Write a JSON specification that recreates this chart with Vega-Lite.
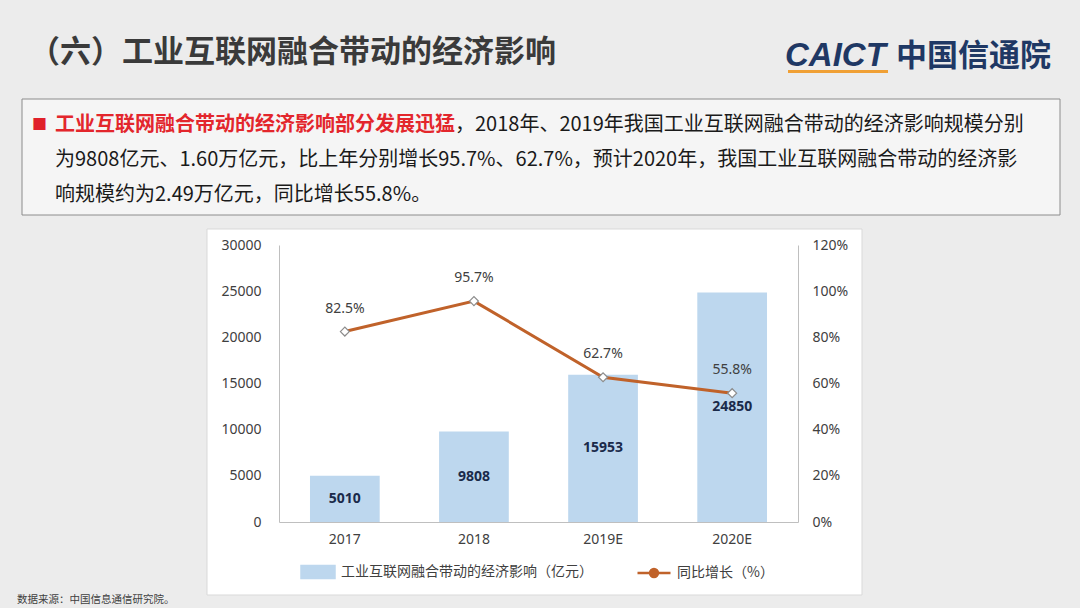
{
  "$schema": "https://vega.github.io/schema/vega-lite/v6.json",
  "width": 519,
  "height": 277,
  "autosize": {"type": "none"},
  "padding": {"left": 279, "top": 245, "right": 282, "bottom": 86},
  "background": "#ececec",
  "config": {"view": {"stroke": null}, "font": "Noto Sans CJK SC"},
  "data": {
    "values": [
      {"year": "2017", "value": 5010, "growth": 0.825, "glabel": "82.5%"},
      {"year": "2018", "value": 9808, "growth": 0.957, "glabel": "95.7%"},
      {"year": "2019E", "value": 15953, "growth": 0.627, "glabel": "62.7%"},
      {"year": "2020E", "value": 24850, "growth": 0.558, "glabel": "55.8%"}
    ]
  },
  "layer": [
    {
      "data": {"values": [{}]},
      "mark": {"type": "rect", "fill": "#f5f5f5", "stroke": "#8c8c8c", "strokeWidth": 1},
      "encoding": {"x": {"value": -257}, "x2": {"value": 781}, "y": {"value": -146}, "y2": {"value": -30}}
    },
    {
      "data": {"values": [{}]},
      "mark": {"type": "rect", "fill": "#ffffff", "stroke": "#d9d9d9", "strokeWidth": 1},
      "encoding": {"x": {"value": -72}, "x2": {"value": 583}, "y": {"value": -16}, "y2": {"value": 350}}
    },
    {
      "mark": {"type": "bar"},
      "encoding": {
        "x": {
          "field": "year", "type": "nominal", "sort": null,
          "scale": {"paddingInner": 0.46, "paddingOuter": 0.24},
          "axis": {"title": null, "zindex": 1, "labelAngle": 0, "labelFont": "Noto Sans", "labelFontSize": 14, "labelColor": "#404040", "labelPadding": 10, "ticks": false, "domainColor": "#bfbfbf", "domainWidth": 1}
        },
        "y": {
          "field": "value", "type": "quantitative",
          "scale": {"domain": [0, 30000], "nice": false},
          "axis": {"title": null, "zindex": 1, "values": [0, 5000, 10000, 15000, 20000, 25000, 30000], "format": "d", "grid": false, "ticks": false, "labelFont": "Noto Sans", "labelFontSize": 14, "labelColor": "#404040", "labelPadding": 18, "domainColor": "#bfbfbf", "domainWidth": 1}
        },
        "color": {
          "datum": "工业互联网融合带动的经济影响（亿元）",
          "type": "nominal",
          "scale": {"domain": ["工业互联网融合带动的经济影响（亿元）", "同比增长（%）"], "range": ["#bdd7ee", "#c0622a"]},
          "legend": {
            "title": null,
            "orient": "none",
            "direction": "horizontal",
            "legendX": 21,
            "legendY": 309,
            "padding": 0,
            "labelFont": "Noto Sans CJK SC",
            "labelFontSize": 14,
            "labelColor": "#404040",
            "labelLimit": 0,
            "symbolSize": 1089,
            "columnPadding": 39,
            "labelOffset": 5,
            "encode": {
              "symbols": {
                "update": {
                  "shape": [
                    {"test": "datum.value === '同比增长（%）'", "value": "M-1,0L1,0M0.24,0A0.24,0.24 0 1,1 -0.24,0A0.24,0.24 0 1,1 0.24,0Z"},
                    {"value": "M-1,-0.36L1,-0.36L1,0.36L-1,0.36Z"}
                  ],
                  "size": {"value": 1089},
                  "fill": [
                    {"test": "datum.value === '同比增长（%）'", "value": "#ffffff"},
                    {"value": "#bdd7ee"}
                  ],
                  "stroke": [
                    {"test": "datum.value === '同比增长（%）'", "value": "#c0622a"},
                    {"value": "#bdd7ee"}
                  ],
                  "strokeWidth": {"value": 2.5},
                  "opacity": {"value": 1}
                }
              }
            }
          }
        }
      }
    },
    {
      "mark": {"type": "text", "font": "Noto Sans", "fontSize": 14, "fontWeight": "bold", "color": "#1a2a4a", "baseline": "middle"},
      "encoding": {
        "x": {"field": "year", "type": "nominal", "sort": null},
        "y": {"field": "value", "type": "quantitative", "scale": {"domain": [0, 60000], "nice": false}, "axis": null},
        "text": {"field": "value", "type": "quantitative", "format": "d"}
      }
    },
    {
      "mark": {"type": "line", "strokeWidth": 3},
      "encoding": {
        "x": {"field": "year", "type": "nominal", "sort": null},
        "y": {
          "field": "growth", "type": "quantitative",
          "scale": {"domain": [0, 1.2], "nice": false},
          "axis": {"orient": "right", "zindex": 1, "title": null, "values": [0, 0.2, 0.4, 0.6, 0.8, 1.0, 1.2], "format": ".0%", "grid": false, "ticks": false, "labelFont": "Noto Sans", "labelFontSize": 14, "labelColor": "#404040", "labelPadding": 14, "domainColor": "#bfbfbf", "domainWidth": 1}
        },
        "color": {"datum": "同比增长（%）", "type": "nominal"}
      }
    },
    {
      "mark": {"type": "point", "shape": "diamond", "filled": true, "fill": "#ffffff", "stroke": "#8c8c8c", "strokeWidth": 1.2, "size": 80, "opacity": 1},
      "encoding": {
        "x": {"field": "year", "type": "nominal", "sort": null},
        "y": {"field": "growth", "type": "quantitative", "scale": {"domain": [0, 1.2], "nice": false}, "axis": null}
      }
    },
    {
      "mark": {"type": "text", "font": "Noto Sans", "fontSize": 14, "color": "#404040", "baseline": "middle", "dy": -23},
      "encoding": {
        "x": {"field": "year", "type": "nominal", "sort": null},
        "y": {"field": "growth", "type": "quantitative", "scale": {"domain": [0, 1.2], "nice": false}, "axis": null},
        "text": {"field": "glabel"}
      }
    },
    {
      "data": {"values": [{"t": "（六）工业互联网融合带动的经济影响"}]},
      "mark": {"type": "text", "font": "Noto Sans CJK SC", "fontSize": 31, "fontWeight": "bold", "color": "#3a3a3a", "align": "left", "baseline": "middle"},
      "encoding": {"text": {"field": "t"}, "x": {"value": -250}, "y": {"value": -192}}
    },
    {
      "data": {"values": [{"t": "■"}]},
      "mark": {"type": "text", "font": "Noto Sans CJK SC", "fontSize": 15, "color": "#e0202a", "align": "left", "baseline": "middle"},
      "encoding": {"text": {"field": "t"}, "x": {"value": -247}, "y": {"value": -120}}
    },
    {
      "data": {"values": [{"t": "工业互联网融合带动的经济影响部分发展迅猛"}]},
      "mark": {"type": "text", "font": "Noto Sans CJK SC", "fontSize": 20, "fontWeight": "bold", "color": "#e3262c", "align": "left", "baseline": "middle"},
      "encoding": {"text": {"field": "t"}, "x": {"value": -224}, "y": {"value": -120}}
    },
    {
      "data": {"values": [{"t": "，2018年、2019年我国工业互联网融合带动的经济影响规模分别"}]},
      "mark": {"type": "text", "font": "Noto Sans CJK SC", "fontSize": 20, "color": "#1a1a1a", "align": "left", "baseline": "middle"},
      "encoding": {"text": {"field": "t"}, "x": {"value": 176}, "y": {"value": -120}}
    },
    {
      "data": {"values": [{"t": "为9808亿元、1.60万亿元，比上年分别增长95.7%、62.7%，预计2020年，我国工业互联网融合带动的经济影"}]},
      "mark": {"type": "text", "font": "Noto Sans CJK SC", "fontSize": 20, "color": "#1a1a1a", "align": "left", "baseline": "middle"},
      "encoding": {"text": {"field": "t"}, "x": {"value": -224}, "y": {"value": -85}}
    },
    {
      "data": {"values": [{"t": "响规模约为2.49万亿元，同比增长55.8%。"}]},
      "mark": {"type": "text", "font": "Noto Sans CJK SC", "fontSize": 20, "color": "#1a1a1a", "align": "left", "baseline": "middle"},
      "encoding": {"text": {"field": "t"}, "x": {"value": -224}, "y": {"value": -50}}
    },
    {
      "data": {"values": [{"t": "CAICT"}]},
      "mark": {"type": "text", "font": "Liberation Sans", "fontSize": 33, "fontWeight": "bold", "fontStyle": "italic", "color": "#1f3864", "align": "left", "baseline": "middle"},
      "encoding": {"text": {"field": "t"}, "x": {"value": 506}, "y": {"value": -189}}
    },
    {
      "data": {"values": [{}]},
      "mark": {"type": "rect", "fill": "#f0a035"},
      "encoding": {"x": {"value": 509}, "x2": {"value": 609}, "y": {"value": -175}, "y2": {"value": -172}}
    },
    {
      "data": {"values": [{"t": "中国信通院"}]},
      "mark": {"type": "text", "font": "Noto Sans CJK SC", "fontSize": 31, "fontWeight": "bold", "color": "#1f3864", "align": "left", "baseline": "middle"},
      "encoding": {"text": {"field": "t"}, "x": {"value": 617}, "y": {"value": -188}}
    },
    {
      "data": {"values": [{"t": "数据来源：中国信息通信研究院。"}]},
      "mark": {"type": "text", "font": "Noto Sans CJK SC", "fontSize": 10.5, "color": "#404040", "align": "left", "baseline": "middle"},
      "encoding": {"text": {"field": "t"}, "x": {"value": -262}, "y": {"value": 355}}
    }
  ],
  "resolve": {"scale": {"y": "independent"}}
}
